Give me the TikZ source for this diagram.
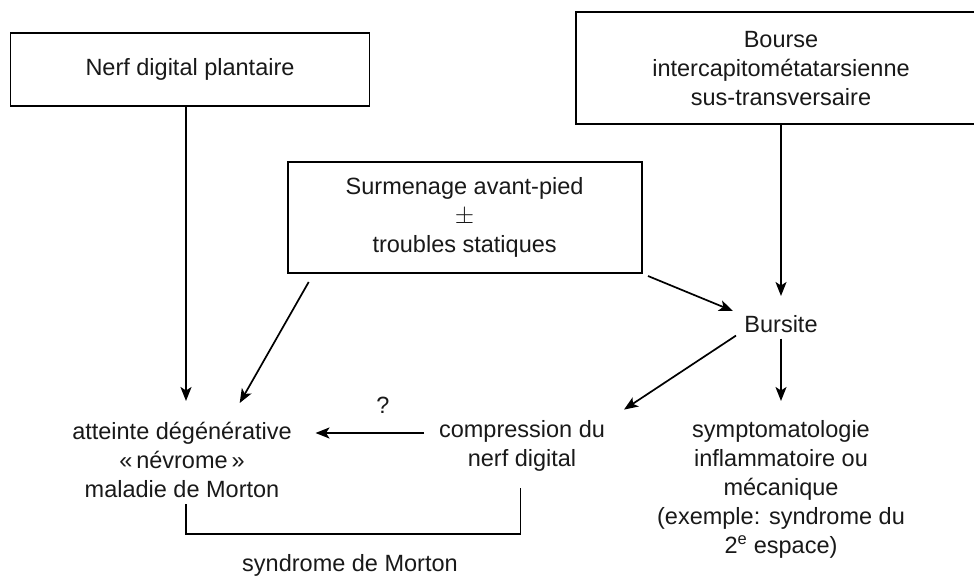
\documentclass[tikz,border=0pt]{standalone}
\usepackage{fontspec}
\setmainfont{Liberation Sans}
\usetikzlibrary{arrows.meta}
\begin{document}
\begin{tikzpicture}[x=1pt,y=-1pt,
  every node/.style={font=\fontsize{23.5}{29}\selectfont, align=center, inner sep=0pt, text=black!90},
  boxnode/.style={draw, line width=1.9pt},
  arr/.style={line width=1.7pt, -{Stealth[length=14pt,width=11pt,inset=3.5pt]}},
  ln/.style={line width=1.7pt}]
\useasboundingbox (0,0) rectangle (974,577);
\fill[white] (0,0) rectangle (974,577);
% boxes
\node[boxnode, minimum width=359pt, minimum height=72.6pt] (nerf) at (190,69.3) {Nerf digital plantaire};
\node[boxnode, minimum width=410pt, minimum height=112.4pt] (bourse) at (781,68.2) {Bourse\\intercapitométatarsienne\\sus-transversaire};
\node[boxnode, minimum width=354pt, minimum height=110.7pt] (surm) at (464.6,217.3) {Surmenage avant-pied\\$\pm$\\troubles statiques};
% text nodes
\node (bursite) at (781,324) {Bursite};
\node (atteinte) at (182,460) {atteinte dégénérative\\«\,névrome\,»\\maladie de Morton};
\node (compr) at (522,445.5) {compression du\\nerf digital};
\node (sympto) at (781,489) {symptomatologie\\inflammatoire ou\\mécanique\\(exemple: syndrome du\\2\textsuperscript{e} espace)};
\node (morton) at (350,565) {syndrome de Morton};
\node (q) at (383,405) {?};
% connector end points
\coordinate (tA1) at (186,401);
\coordinate (sA2) at (308.7,282);
\coordinate (tA2) at (239.7,403);
\coordinate (tB1) at (781,296);
\coordinate (sB2) at (648,276);
\coordinate (tB2) at (733,311);
\coordinate (sC1) at (736,335.6);
\coordinate (tC1) at (624,409.6);
\coordinate (sD1) at (781,338.6);
\coordinate (tD1) at (781,401);
\coordinate (sE1) at (424,433);
\coordinate (tE1) at (315.5,433);
\coordinate (b1) at (186,504);
\coordinate (b2) at (520.5,487.7);
\coordinate (bl) at (186,533.7);
\coordinate (br) at (520.5,533.7);
% connectors
\draw[arr] (nerf.south -| tA1) -- (tA1);
\draw[arr] (sA2) -- (tA2);
\draw[arr] (bourse.south -| tB1) -- (tB1);
\draw[arr] (sB2) -- (tB2);
\draw[arr] (sC1) -- (tC1);
\draw[arr] (sD1) -- (tD1);
\draw[arr] (sE1) -- (tE1);
\draw[ln] (b1) -- (bl) -- (br) -- (b2);
\end{tikzpicture}
\end{document}
